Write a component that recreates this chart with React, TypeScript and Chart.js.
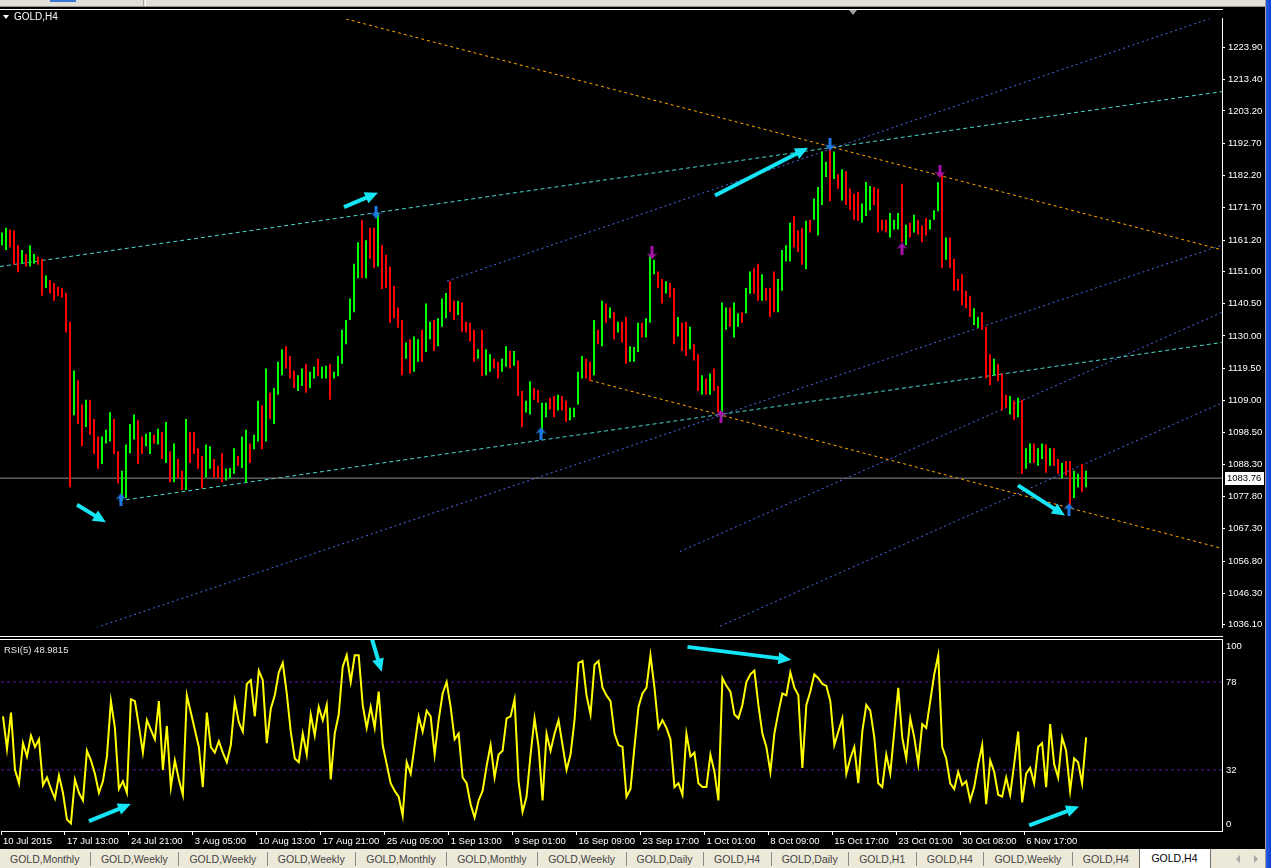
import React, { useEffect, useRef } from "react";
import { Chart, registerables } from "chart.js";

Chart.register(...registerables);

// ---------------- data ----------------
const barHigh = [
  1163.7,1165.2,1164.6,1164.3,1159.5,1158.0,1156.7,1159.5,1156.7,1155.8,
  1155.1,1149.7,1148.2,1147.2,1146.0,1145.6,1144.0,1134.6,1118.8,1115.6,
  1107.7,1109.3,1109.3,1103.0,1097.3,1097.3,1099.5,1105.2,1103.0,1092.5,
  1086.2,1094.7,1101.4,1104.5,1102.6,1097.3,1098.2,1098.8,1097.9,1099.8,
  1098.8,1102.0,1092.5,1095.0,1090.0,1086.2,1103.0,1098.8,1098.8,1093.5,
  1091.0,1094.7,1094.1,1090.0,1087.8,1091.9,1086.8,1087.1,1093.5,1091.0,
  1097.3,1099.5,1095.0,1097.9,1108.9,1107.4,1119.4,1111.5,1113.1,1121.6,
  1125.7,1126.7,1123.5,1118.8,1117.2,1119.4,1121.0,1118.4,1120.0,1122.6,
  1120.0,1120.3,1121.0,1118.4,1123.5,1132.0,1135.2,1142.2,1153.5,1160.5,
  1167.8,1161.1,1165.2,1165.2,1170.0,1159.5,1156.4,1152.6,1146.3,1139.3,
  1135.2,1127.9,1128.9,1129.8,1128.9,1132.0,1140.6,1134.6,1135.2,1135.8,
  1142.2,1144.0,1147.8,1141.5,1141.5,1140.9,1134.6,1134.3,1132.0,1125.7,
  1132.0,1125.7,1124.1,1122.6,1121.6,1122.6,1126.7,1125.1,1125.1,1122.0,
  1112.1,1108.9,1115.3,1113.1,1112.4,1108.3,1108.3,1109.9,1110.5,1110.9,
  1110.5,1108.9,1106.7,1106.7,1118.4,1123.5,1122.6,1121.6,1135.2,1132.0,
  1141.5,1140.6,1139.3,1137.7,1134.6,1134.6,1136.2,1126.7,1126.4,1134.3,
  1134.3,1135.8,1156.4,1154.8,1151.0,1148.5,1147.8,1147.2,1145.6,1136.2,
  1134.3,1134.6,1133.0,1127.3,1124.1,1117.2,1116.2,1117.8,1119.4,1113.7,
  1140.9,1139.3,1139.3,1140.9,1137.4,1137.7,1145.6,1151.0,1152.0,1153.5,
  1150.1,1145.6,1145.6,1151.0,1148.5,1158.0,1159.5,1166.8,1169.0,1164.3,
  1165.2,1167.5,1167.8,1174.7,1178.5,1190.0,1186.7,1193.7,1190.0,1182.6,
  1184.2,1183.6,1177.9,1176.3,1176.9,1173.1,1180.1,1178.8,1178.5,1177.9,
  1167.8,1167.8,1170.0,1167.8,1170.0,1179.5,1166.2,1166.8,1169.4,1167.8,
  1165.9,1168.4,1167.8,1170.9,1180.0,1183.0,1162.0,1162.0,1155.1,1148.5,
  1150.1,1144.7,1143.1,1139.0,1136.2,1137.7,1133.0,1124.1,1122.6,1121.0,
  1117.8,1110.9,1110.5,1108.9,1109.9,1109.3,1093.5,1095.0,1095.0,1093.5,
  1095.0,1094.7,1093.5,1093.5,1090.0,1088.7,1089.3,1089.3,1086.2,1085.2,
  1088.4,1086.2,
];

const barLow = [
  1159.5,1158.0,1158.9,1153.2,1150.7,1153.5,1152.6,1152.6,1153.5,1153.2,
  1143.1,1145.6,1143.8,1141.5,1143.1,1142.5,1131.1,1080.8,1104.2,1101.4,
  1094.1,1100.4,1097.9,1091.6,1086.8,1088.4,1095.0,1095.7,1091.6,1082.1,
  1076.7,1077.3,1091.9,1096.3,1088.4,1091.6,1094.1,1091.6,1095.0,1094.7,
  1090.0,1088.7,1082.4,1082.4,1083.7,1079.9,1079.9,1088.7,1091.6,1086.8,
  1080.5,1084.0,1086.8,1084.0,1083.7,1082.4,1083.0,1083.7,1085.2,1087.8,
  1087.1,1082.4,1088.7,1093.2,1095.7,1093.2,1095.7,1103.0,1101.4,1110.9,
  1117.2,1119.4,1116.2,1113.1,1112.1,1113.7,1111.5,1113.1,1116.2,1116.9,
  1116.2,1116.2,1109.3,1116.2,1116.9,1121.0,1127.3,1135.2,1137.7,1148.8,
  1148.8,1148.8,1155.1,1152.0,1152.6,1145.3,1145.6,1134.3,1135.8,1132.7,
  1117.2,1122.6,1117.8,1118.4,1121.6,1121.6,1124.8,1128.9,1125.1,1126.7,
  1133.0,1135.8,1137.7,1135.2,1136.8,1131.4,1131.1,1128.2,1121.6,1122.6,
  1116.9,1117.2,1118.4,1119.4,1116.2,1118.4,1120.0,1119.4,1120.3,1110.5,
  1100.4,1105.1,1104.5,1109.3,1108.3,1098.2,1103.6,1106.1,1103.6,1105.8,
  1105.8,1102.0,1102.6,1103.6,1107.7,1116.2,1116.2,1115.3,1117.2,1127.3,
  1126.7,1134.3,1135.8,1128.9,1131.1,1127.9,1121.0,1121.6,1121.6,1124.8,
  1129.5,1129.5,1134.3,1150.1,1145.6,1140.6,1143.8,1142.5,1127.3,1129.8,
  1125.1,1123.5,1125.7,1122.0,1112.1,1110.9,1110.9,1110.9,1112.1,1105.2,
  1103.6,1132.0,1133.0,1129.5,1133.0,1134.3,1137.4,1143.7,1143.7,1141.5,
  1141.5,1141.5,1136.2,1137.7,1137.7,1144.7,1154.2,1154.2,1158.9,1157.3,
  1153.2,1151.7,1163.7,1167.8,1162.7,1172.6,1181.7,1173.8,1181.1,1177.9,
  1174.1,1172.6,1170.9,1167.8,1167.5,1166.8,1169.0,1170.9,1172.5,1163.7,
  1164.3,1163.7,1162.0,1164.6,1164.6,1160.5,1159.5,1162.0,1163.7,1163.0,
  1160.5,1162.7,1164.6,1167.8,1170.6,1152.0,1154.8,1152.0,1144.7,1144.7,
  1140.0,1139.0,1136.2,1133.6,1132.7,1132.0,1116.2,1114.0,1117.2,1115.3,
  1105.8,1106.7,1104.5,1102.6,1103.6,1085.2,1086.8,1088.7,1088.7,1087.8,
  1090.0,1085.5,1087.8,1087.8,1085.2,1083.7,1084.6,1074.2,1077.3,1080.8,
  1079.2,1080.8,
];

// 1 = bullish (green), 0 = bearish (red)
const barUp = [
  1,1,0,0,0,1,0,1,1,0, 0,1,0,0,0,0,0,0,1,0, 0,1,0,0,0,1,1,1,0,0,
  1,1,1,1,0,0,1,1,0,1, 0,1,0,1,0,0,1,0,0,0, 0,1,1,0,0,0,1,1,1,0,
  1,1,0,1,1,0,1,0,1,1, 1,0,0,0,1,1,0,1,1,0, 1,1,0,1,1,1,1,1,1,1,
  0,1,0,0,1,0,0,0,0,0, 0,1,0,1,1,0,1,1,0,1, 1,1,0,0,1,0,0,0,0,1,
  0,1,1,0,0,1,1,0,1,0, 0,1,1,0,0,1,1,0,0,1, 0,0,1,1,1,1,0,0,1,0,
  1,0,1,0,1,0,0,1,1,1, 0,1,1,1,0,0,1,0,0,1, 0,0,1,0,0,1,0,1,0,0,
  1,1,0,1,1,0,1,1,0,0, 1,0,0,0,1,1,1,1,0,0, 0,1,0,1,1,1,1,0,1,0,
  1,0,0,0,0,1,1,1,0,0, 0,0,1,1,1,0,1,0,1,0, 0,0,1,1,1,0,1,0,0,0,
  0,0,0,1,1,0,0,0,1,0, 0,0,1,0,1,0,1,1,0,1, 1,0,1,0,0,1,0,0,1,1,
  0,1,
];

const rsiValues = [
  60,43,62,32,25,46,39,50,44,48, 24,28,22,17,29,20,6,4,27,20,
  16,42,37,30,20,26,39,68,54,22, 26,20,69,68,55,41,58,53,48,68,
  32,55,23,37,27,19,71,62,53,44, 23,62,44,41,47,41,36,45,68,57,
  52,77,79,60,84,79,46,64,71,83, 88,72,52,38,36,51,40,61,50,65,
  58,66,27,51,61,86,92,78,92,92, 66,54,65,54,73,45,35,25,21,18,
  8,36,30,45,60,52,63,60,40,58, 72,78,65,48,51,28,25,14,7,16,
  21,34,45,28,40,42,59,60,69,26, 10,18,40,59,44,16,51,42,51,58,
  45,32,40,58,88,89,71,61,87,89, 75,71,68,51,45,44,18,22,44,65,
  72,75,92,75,54,58,54,48,23,25, 19,51,39,41,25,23,23,40,31,16,
  80,76,73,61,59,66,78,82,84,66, 51,44,31,51,62,72,71,83,75,71,
  33,66,73,82,80,77,76,68,45,52, 59,30,38,44,25,52,66,63,49,25,
  23,40,30,52,75,49,38,59,49,35, 56,54,68,82,92,44,38,25,22,31,
  24,26,16,23,35,45,14,37,31,19, 18,28,19,35,52,15,30,33,25,44,
  46,23,56,35,28,49,42,21,38,36, 25,48.98,
];

const priceTicks = [
  1036.1, 1046.3, 1056.8, 1067.3, 1077.8, 1088.3, 1098.5, 1109.0, 1119.5, 1130.0,
  1140.5, 1151.0, 1161.2, 1171.7, 1182.2, 1192.7, 1203.2, 1213.4, 1223.9,
];
const lastPrice = 1083.76;
const rsiLevels = [78, 32];
const rsiAxisLabels = [100, 78, 32, 0];
const rsiCurrent = "48.9815";

const timeLabels = [
  "10 Jul 2015", "17 Jul 13:00", "24 Jul 21:00", "3 Aug 05:00", "10 Aug 13:00",
  "17 Aug 21:00", "25 Aug 05:00", "1 Sep 13:00", "9 Sep 01:00", "16 Sep 09:00",
  "23 Sep 17:00", "1 Oct 01:00", "8 Oct 09:00", "15 Oct 17:00", "23 Oct 01:00",
  "30 Oct 08:00", "6 Nov 17:00",
];
const barsPerTimeLabel = 16;

// trend lines: [bar1, price1, bar2, price2]
const orangeLines = [[70, 1238.6, 305, 1158.0], [147, 1115.6, 305, 1060.9]];
const cyanLines = [[-0.5, 1152.6, 305, 1209.5], [29.25, 1076.4, 305, 1127.9]];
const blueLines = [
  [111.25, 1147.85, 305, 1234.6],
  [20, 1033.6, 305, 1159.55],
  [169.5, 1059.9, 305, 1137.7],
  [175, 1033.0, 305, 1108.3],
];

// fractal markers: [bar, price]
const fractalUpBlue = [[29.75, 1076.7], [134.75, 1098.2], [266.75, 1073.5]];
const fractalDownBlue = [[93.5, 1170.3], [207, 1192.4]];
const fractalUpMagenta = [[179.75, 1103.9], [225, 1158.3]];
const fractalDownMagenta = [[162.5, 1157.0], [234.5, 1183.6]];

// hand drawn arrows: [bar1, value1, bar2, value2]
const priceArrows = [
  [18.75, 1075.1, 26, 1069.4],
  [85.5, 1171.9, 94, 1176.6],
  [178.25, 1175.7, 201.5, 1191.2],
  [254, 1081.4, 265.75, 1071.6],
];
const rsiArrows = [
  [21.5, 5.2, 32, 14.1],
  [92.25, 101, 94.75, 83.4],
  [171.25, 96.4, 197.25, 89.6],
  [256.75, 2.9, 269.25, 12.8],
];

const tabNames = [
  "GOLD,Monthly", "GOLD,Weekly", "GOLD,Weekly", "GOLD,Weekly", "GOLD,Monthly",
  "GOLD,Monthly", "GOLD,Weekly", "GOLD,Daily", "GOLD,H4", "GOLD,Daily",
  "GOLD,H1", "GOLD,H4", "GOLD,Weekly", "GOLD,H4",
];
const activeTab = "GOLD,H4";

// ---------------- styles ----------------
const FONT = "'Liberation Sans', Arial, sans-serif";
const CYAN = "#14e4f4";
const X_MIN = -0.5;
const X_MAX = 305;

function makeGlyph(color: string, up: boolean): HTMLCanvasElement {
  const c = document.createElement("canvas");
  c.width = 11;
  c.height = 13;
  const g = c.getContext("2d") as CanvasRenderingContext2D;
  g.fillStyle = color;
  const pts = [[5.5, 0], [11, 6.5], [7, 5], [7, 13], [4, 13], [4, 5], [0, 6.5]];
  g.beginPath();
  pts.forEach(([x, y], k) => {
    const yy = up ? y : 13 - y;
    if (k === 0) g.moveTo(x, yy);
    else g.lineTo(x, yy);
  });
  g.closePath();
  g.fill();
  return c;
}

function arrowPlugin(id: string, list: number[][]) {
  return {
    id,
    afterDatasetsDraw(chart: any) {
      const { ctx, chartArea, scales } = chart;
      const xs = scales.x;
      const ys = scales.y;
      ctx.save();
      ctx.beginPath();
      ctx.rect(chartArea.left, chartArea.top, chartArea.right - chartArea.left, chartArea.bottom - chartArea.top);
      ctx.clip();
      ctx.strokeStyle = CYAN;
      ctx.fillStyle = CYAN;
      ctx.lineWidth = 4;
      for (const [a, b, c, d] of list) {
        const x1 = xs.getPixelForValue(a);
        const y1 = ys.getPixelForValue(b);
        const x2 = xs.getPixelForValue(c);
        const y2 = ys.getPixelForValue(d);
        const ang = Math.atan2(y2 - y1, x2 - x1);
        const L = 13;
        const W = 6;
        const bx = x2 - L * Math.cos(ang);
        const by = y2 - L * Math.sin(ang);
        ctx.beginPath();
        ctx.moveTo(x1, y1);
        ctx.lineTo(bx + Math.cos(ang), by + Math.sin(ang));
        ctx.stroke();
        ctx.beginPath();
        ctx.moveTo(x2, y2);
        ctx.lineTo(bx - W * Math.sin(ang), by + W * Math.cos(ang));
        ctx.lineTo(bx + W * Math.sin(ang), by - W * Math.cos(ang));
        ctx.closePath();
        ctx.fill();
      }
      ctx.restore();
    },
  };
}

const priceBoxPlugin = {
  id: "priceBox",
  afterDraw(chart: any) {
    const { ctx, chartArea, scales } = chart;
    const py = Math.round(scales.y.getPixelForValue(lastPrice));
    ctx.save();
    ctx.fillStyle = "#ffffff";
    ctx.fillRect(chartArea.right + 3, py - 6, 39, 13);
    ctx.fillStyle = "#000000";
    ctx.font = `9.5px ${FONT}`;
    ctx.textBaseline = "middle";
    ctx.fillText(lastPrice.toFixed(2), chartArea.right + 5, py + 0.5);
    ctx.restore();
  },
};

const rsiAxisPlugin = {
  id: "rsiAxis",
  afterDraw(chart: any) {
    const { ctx, chartArea, scales } = chart;
    ctx.save();
    ctx.fillStyle = "#ffffff";
    ctx.font = `9.5px ${FONT}`;
    ctx.textBaseline = "middle";
    for (const v of rsiAxisLabels) {
      let py = scales.y.getPixelForValue(v);
      if (v >= 100) py += 6;
      if (v <= 0) py -= 7;
      ctx.fillText(String(v), chartArea.right + 4, py);
    }
    ctx.restore();
  },
};

function lineSet(pts: number[], color: string, dash: number[]) {
  return {
    type: "line",
    data: [{ x: pts[0], y: pts[1] }, { x: pts[2], y: pts[3] }],
    borderColor: color,
    borderWidth: 1,
    borderDash: dash,
    pointRadius: 0,
    fill: false,
    order: 10,
  };
}

function glyphSet(pts: number[][], glyph: HTMLCanvasElement) {
  return {
    type: "scatter",
    data: pts.map(([x, y]) => ({ x, y })),
    pointStyle: glyph,
    pointRadius: 6,
    order: 1,
  };
}

export default function App() {
  const mainRef = useRef<HTMLCanvasElement>(null);
  const rsiRef = useRef<HTMLCanvasElement>(null);

  useEffect(() => {
    const BLUE_G = "#1c78e6";
    const MAG_G = "#a412aa";
    const upBlue = makeGlyph(BLUE_G, true);
    const downBlue = makeGlyph(BLUE_G, false);
    const upMag = makeGlyph(MAG_G, true);
    const downMag = makeGlyph(MAG_G, false);

    const datasets: any[] = [
      {
        type: "bar",
        data: barHigh.map((h, i) => ({ x: i, y: [barLow[i], h] })),
        backgroundColor: barUp.map((u) => (u ? "#00ff00" : "#ff0000")),
        barThickness: 2,
        borderWidth: 0,
        inflateAmount: 0,
        order: 5,
      },
      ...orangeLines.map((l) => lineSet(l, "#ffa500", [3, 3])),
      ...cyanLines.map((l) => lineSet(l, "#48d8cc", [4, 3])),
      ...blueLines.map((l) => lineSet(l, "#4a6cf0", [2, 3])),
      {
        type: "line",
        data: [{ x: X_MIN, y: lastPrice }, { x: X_MAX, y: lastPrice }],
        borderColor: "#8c8c8c",
        borderWidth: 1,
        pointRadius: 0,
        order: 8,
      },
      glyphSet(fractalUpBlue, upBlue),
      glyphSet(fractalDownBlue, downBlue),
      glyphSet(fractalUpMagenta, upMag),
      glyphSet(fractalDownMagenta, downMag),
    ];

    const main = new Chart(mainRef.current as HTMLCanvasElement, {
      type: "bar",
      data: { datasets },
      options: {
        animation: false,
        responsive: false,
        devicePixelRatio: 1,
        events: [],
        layout: { padding: 0, autoPadding: false },
        plugins: { legend: { display: false }, tooltip: { enabled: false } },
        scales: {
          x: { type: "linear", min: X_MIN, max: X_MAX, display: false, offset: false },
          y: {
            type: "linear",
            position: "right",
            min: 1035.25,
            max: 1233.2,
            afterBuildTicks: (s: any) => {
              s.ticks = priceTicks.map((v) => ({ value: v }));
            },
            afterFit: (s: any) => {
              s.width = 43;
            },
            ticks: {
              color: "#ffffff",
              font: { family: FONT, size: 9.5 },
              padding: 3,
              autoSkip: false,
              callback: (v: any) => Number(v).toFixed(2),
            },
            grid: { drawOnChartArea: false, color: "#ffffff", tickLength: 3 },
            border: { display: true, color: "#ffffff" },
          },
        },
      } as any,
      plugins: [arrowPlugin("priceArrows", priceArrows), priceBoxPlugin],
    } as any);

    const rsi = new Chart(rsiRef.current as HTMLCanvasElement, {
      type: "line",
      data: {
        datasets: [
          {
            data: rsiValues.map((v, i) => ({ x: i, y: v })),
            borderColor: "#ffff00",
            borderWidth: 2,
            pointRadius: 0,
            tension: 0,
            order: 1,
          },
          ...rsiLevels.map((lv) => ({
            data: [{ x: X_MIN, y: lv }, { x: X_MAX, y: lv }],
            borderColor: "#5a16a8",
            borderWidth: 1,
            borderDash: [3, 3],
            pointRadius: 0,
            order: 5,
          })),
        ],
      },
      options: {
        animation: false,
        responsive: false,
        devicePixelRatio: 1,
        events: [],
        layout: { padding: 0, autoPadding: false },
        plugins: { legend: { display: false }, tooltip: { enabled: false } },
        scales: {
          x: {
            type: "linear",
            min: X_MIN,
            max: X_MAX,
            afterBuildTicks: (s: any) => {
              s.ticks = timeLabels.map((_, k) => ({ value: k * barsPerTimeLabel - 0.5 }));
            },
            afterFit: (s: any) => {
              s.height = 18;
            },
            ticks: {
              color: "#ffffff",
              font: { family: FONT, size: 9.5 },
              align: "start",
              labelOffset: 2,
              padding: 1,
              maxRotation: 0,
              autoSkip: false,
              callback: (_v: any, idx: number) => timeLabels[idx],
            },
            grid: { drawOnChartArea: false, color: "#ffffff", tickLength: 4 },
            border: { display: true, color: "#ffffff" },
          },
          y: {
            type: "linear",
            position: "right",
            min: 0,
            max: 100,
            afterFit: (s: any) => {
              s.width = 43;
            },
            ticks: { display: false },
            grid: { display: false },
            border: { display: true, color: "#ffffff" },
          },
        },
      } as any,
      plugins: [arrowPlugin("rsiArrows", rsiArrows), rsiAxisPlugin],
    } as any);

    return () => {
      main.destroy();
      rsi.destroy();
    };
  }, []);

  const abs = (o: any) => ({ position: "absolute", ...o } as React.CSSProperties);

  return (
    <div style={abs({ position: "fixed", left: 0, top: 0, width: 1279, height: 868, background: "#ffffff", overflow: "hidden", fontFamily: FONT })}>
      {/* toolbar strip */}
      <div style={abs({ left: 0, top: 0, width: 1266, height: 6, background: "#e2dfd6" })} />
      <div style={abs({ left: 0, top: 6, width: 1266, height: 1, background: "#9a9890" })} />
      <div style={abs({ left: 143, top: 0, width: 1, height: 6, background: "#a8a69e" })} />
      <div style={abs({ left: 145, top: 0, width: 1, height: 6, background: "#ffffff" })} />
      <div style={abs({ left: 50, top: 0, width: 26, height: 2, background: "#3a78d8" })} />

      {/* black chart window */}
      <div style={abs({ left: 0, top: 7, width: 1265, height: 842, background: "#000000" })} />

      <canvas ref={mainRef} width={1265} height={626} style={abs({ left: 0, top: 10, width: 1265, height: 626 })} />
      <canvas ref={rsiRef} width={1265} height={209} style={abs({ left: 0, top: 640, width: 1265, height: 209 })} />

      {/* pane frames */}
      <div style={abs({ left: 0, top: 9, width: 1223, height: 1, background: "#ffffff" })} />
      <div style={abs({ left: 0, top: 636, width: 1223, height: 1, background: "#ffffff" })} />
      <div style={abs({ left: 0, top: 639, width: 1223, height: 1, background: "#ffffff" })} />

      {/* chart shift marker */}
      <div style={abs({ left: 849, top: 10, width: 0, height: 0, borderLeft: "4px solid transparent", borderRight: "4px solid transparent", borderTop: "5px solid #a0a0a0" })} />

      {/* titles */}
      <div style={abs({ left: 3, top: 15, width: 0, height: 0, borderLeft: "3.5px solid transparent", borderRight: "3.5px solid transparent", borderTop: "4px solid #ffffff" })} />
      <div style={abs({ left: 14, top: 11, color: "#ffffff", fontSize: 10, lineHeight: "11px", whiteSpace: "nowrap" })}>GOLD,H4</div>
      <div style={abs({ left: 4, top: 644, color: "#e4e4e4", fontSize: 9.5, lineHeight: "11px", whiteSpace: "nowrap" })}>
        RSI(5) {rsiCurrent}
      </div>

      {/* tab bar */}
      <div style={abs({ left: 0, top: 849, width: 1266, height: 19, background: "#ece9d8", display: "flex", alignItems: "center", fontSize: 10.5, color: "#444444", whiteSpace: "nowrap" })}>
        {tabNames.map((t, k) => (
          <React.Fragment key={k}>
            <span style={{ padding: "1px 10.5px 0 10px" }}>{t}</span>
            {k < tabNames.length - 1 && <span style={{ width: 1, height: 14, background: "#8a8a8a", display: "inline-block" }} />}
          </React.Fragment>
        ))}
        <span style={{ height: 19, boxSizing: "border-box", background: "#ffffff", color: "#000000", borderLeft: "1px solid #707070", borderRight: "1px solid #707070", padding: "3px 12px 0 11px" }}>
          {activeTab}
        </span>
      </div>
      <div style={abs({ left: 1236, top: 855, width: 0, height: 0, borderTop: "4px solid transparent", borderBottom: "4px solid transparent", borderRight: "4px solid #a8a8a8" })} />
      <div style={abs({ left: 1254, top: 855, width: 0, height: 0, borderTop: "4px solid transparent", borderBottom: "4px solid transparent", borderLeft: "4px solid #a8a8a8" })} />

      {/* window edge */}
      <div style={abs({ left: 1265, top: 0, width: 1, height: 868, background: "#9c9c9c" })} />
      <div style={abs({ left: 1266, top: 0, width: 5, height: 868, background: "linear-gradient(90deg,#2a5ce0,#0b3fd0)" })} />
    </div>
  );
}
